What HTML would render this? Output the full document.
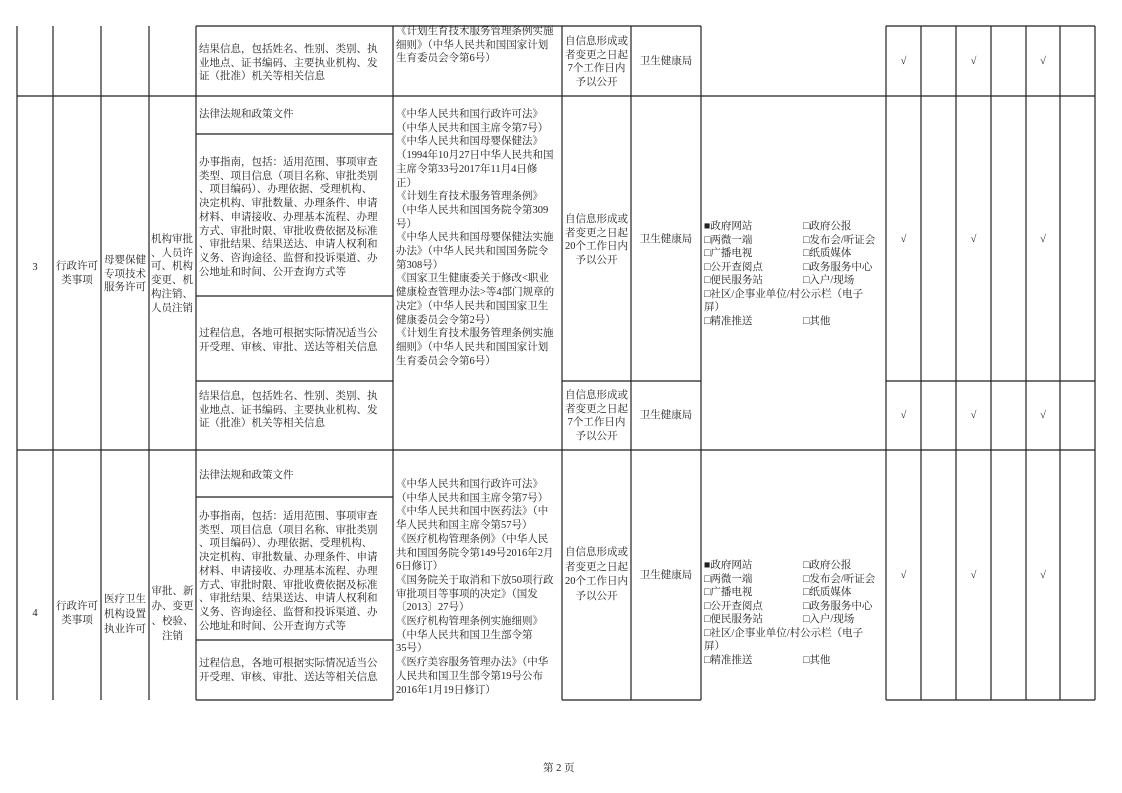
<!DOCTYPE html>
<html><head><meta charset="utf-8">
<style>
html,body{margin:0;padding:0;background:#fff;}
#p{position:relative;width:1122px;height:793px;overflow:hidden;font-family:"Liberation Serif","Noto Serif CJK SC",serif;font-size:10.5px;color:#222;}
.t{position:absolute;white-space:nowrap;line-height:13.7px;}
.c{text-align:center;}
svg{position:absolute;left:0;top:0;}
</style></head><body><div id="p">
<svg width="1122" height="793" stroke="#222" stroke-width="1.2" fill="none">
<path d="M17 26V700M53 26V700M101 26V700M149 26V700M196 26V700M393 26V700M562 26V700M631 26V700M701 26V700M886 26V700M921 26V700M956 26V700M991 26V700M1026 26V700M1060 26V700M1095 26V700"/>
<path d="M196 26H701M886 26H1095M17 96H1095M196 134H393M196 296H393M196 381H393M562 381H701M886 381H1095M17 450H1095M196 497H393M196 640H393M196 700H393M562 700H701M886 700H1095"/>
</svg>

<div class="t" style="left:199px;top:43px">结果信息，包括姓名、性别、类别、执<br>业地点、证书编码、主要执业机构、发<br>证（批准）机关等相关信息</div>
<div class="t" style="left:396px;top:25px">《计划生育技术服务管理条例实施<br>细则》（中华人民共和国国家计划<br>生育委员会令第6号）</div>
<div class="t c" style="left:562px;width:69px;top:35px;line-height:13.5px">自信息形成或<br>者变更之日起<br>7个工作日内<br>予以公开</div>
<div class="t c" style="left:631px;width:70px;top:55px">卫生健康局</div>
<div class="t c" style="left:886px;width:35px;top:55px">√</div>
<div class="t c" style="left:956px;width:35px;top:55px">√</div>
<div class="t c" style="left:1026px;width:34px;top:55px">√</div>

<div class="t c" style="left:17px;width:36px;top:261px">3</div>
<div class="t c" style="left:53px;width:48px;top:260px">行政许可<br>类事项</div>
<div class="t c" style="left:101px;width:48px;top:254px">母婴保健<br>专项技术<br>服务许可</div>
<div class="t" style="left:151px;top:233px">机构审批<br>、人员许<br>可、机构<br>变更、机<br>构注销、<br>人员注销</div>
<div class="t" style="left:199px;top:108px">法律法规和政策文件</div>
<div class="t" style="left:199px;top:156px">办事指南，包括：适用范围、事项审查<br>类型、项目信息（项目名称、审批类别<br>、项目编码）、办理依据、受理机构、<br>决定机构、审批数量、办理条件、申请<br>材料、申请接收、办理基本流程、办理<br>方式、审批时限、审批收费依据及标准<br>、审批结果、结果送达、申请人权利和<br>义务、咨询途径、监督和投诉渠道、办<br>公地址和时间、公开查询方式等</div>
<div class="t" style="left:199px;top:327px">过程信息，各地可根据实际情况适当公<br>开受理、审核、审批、送达等相关信息</div>
<div class="t" style="left:199px;top:390px">结果信息，包括姓名、性别、类别、执<br>业地点、证书编码、主要执业机构、发<br>证（批准）机关等相关信息</div>
<div class="t" style="left:396px;top:108px">《中华人民共和国行政许可法》<br>（中华人民共和国主席令第7号）<br>《中华人民共和国母婴保健法》<br>（1994年10月27日中华人民共和国<br>主席令第33号2017年11月4日修<br>正）<br>《计划生育技术服务管理条例》<br>（中华人民共和国国务院令第309<br>号）<br>《中华人民共和国母婴保健法实施<br>办法》（中华人民共和国国务院令<br>第308号）<br>《国家卫生健康委关于修改&lt;职业<br>健康检查管理办法&gt;等4部门规章的<br>决定》（中华人民共和国国家卫生<br>健康委员会令第2号）<br>《计划生育技术服务管理条例实施<br>细则》（中华人民共和国国家计划<br>生育委员会令第6号）</div>
<div class="t c" style="left:562px;width:69px;top:213px;line-height:13.5px">自信息形成或<br>者变更之日起<br>20个工作日内<br>予以公开</div>
<div class="t c" style="left:631px;width:70px;top:233px">卫生健康局</div>
<div class="t" style="left:704px;top:220px;line-height:13.5px">■政府网站<br>□两微一端<br>□广播电视<br>□公开查阅点<br>□便民服务站<br>□社区/企事业单位/村公示栏（电子<br>屏）<br>□精准推送</div>
<div class="t" style="left:803px;top:220px;line-height:13.5px">□政府公报<br>□发布会/听证会<br>□纸质媒体<br>□政务服务中心<br>□入户/现场<br><br><br>□其他</div>
<div class="t c" style="left:886px;width:35px;top:233px">√</div>
<div class="t c" style="left:956px;width:35px;top:233px">√</div>
<div class="t c" style="left:1026px;width:34px;top:233px">√</div>
<div class="t c" style="left:562px;width:69px;top:389px;line-height:13.5px">自信息形成或<br>者变更之日起<br>7个工作日内<br>予以公开</div>
<div class="t c" style="left:631px;width:70px;top:409px">卫生健康局</div>
<div class="t c" style="left:886px;width:35px;top:409px">√</div>
<div class="t c" style="left:956px;width:35px;top:409px">√</div>
<div class="t c" style="left:1026px;width:34px;top:409px">√</div>

<div class="t c" style="left:17px;width:36px;top:607px">4</div>
<div class="t c" style="left:53px;width:48px;top:600px;line-height:14px">行政许可<br>类事项</div>
<div class="t c" style="left:101px;width:48px;top:592px;line-height:15px">医疗卫生<br>机构设置<br>执业许可</div>
<div class="t c" style="left:149px;width:47px;top:584px;line-height:15px">审批、新<br>办、变更<br>、校验、<br>注销</div>
<div class="t" style="left:199px;top:469px">法律法规和政策文件</div>
<div class="t" style="left:199px;top:510px">办事指南，包括：适用范围、事项审查<br>类型、项目信息（项目名称、审批类别<br>、项目编码）、办理依据、受理机构、<br>决定机构、审批数量、办理条件、申请<br>材料、申请接收、办理基本流程、办理<br>方式、审批时限、审批收费依据及标准<br>、审批结果、结果送达、申请人权利和<br>义务、咨询途径、监督和投诉渠道、办<br>公地址和时间、公开查询方式等</div>
<div class="t" style="left:199px;top:657px">过程信息，各地可根据实际情况适当公<br>开受理、审核、审批、送达等相关信息</div>
<div class="t" style="left:396px;top:478px">《中华人民共和国行政许可法》<br>（中华人民共和国主席令第7号）<br>《中华人民共和国中医药法》（中<br>华人民共和国主席令第57号）<br>《医疗机构管理条例》（中华人民<br>共和国国务院令第149号2016年2月<br>6日修订）<br>《国务院关于取消和下放50项行政<br>审批项目等事项的决定》（国发<br>〔2013〕27号）<br>《医疗机构管理条例实施细则》<br>（中华人民共和国卫生部令第<br>35号）<br>《医疗美容服务管理办法》（中华<br>人民共和国卫生部令第19号公布<br>2016年1月19日修订）</div>
<div class="t c" style="left:562px;width:69px;top:546px;line-height:14.6px">自信息形成或<br>者变更之日起<br>20个工作日内<br>予以公开</div>
<div class="t c" style="left:631px;width:70px;top:569px">卫生健康局</div>
<div class="t" style="left:704px;top:559px;line-height:13.5px">■政府网站<br>□两微一端<br>□广播电视<br>□公开查阅点<br>□便民服务站<br>□社区/企事业单位/村公示栏（电子<br>屏）<br>□精准推送</div>
<div class="t" style="left:803px;top:559px;line-height:13.5px">□政府公报<br>□发布会/听证会<br>□纸质媒体<br>□政务服务中心<br>□入户/现场<br><br><br>□其他</div>
<div class="t c" style="left:886px;width:35px;top:569px">√</div>
<div class="t c" style="left:956px;width:35px;top:569px">√</div>
<div class="t c" style="left:1026px;width:34px;top:569px">√</div>

<div class="t" style="left:543px;top:762px">第 2 页</div>
</div></body></html>
